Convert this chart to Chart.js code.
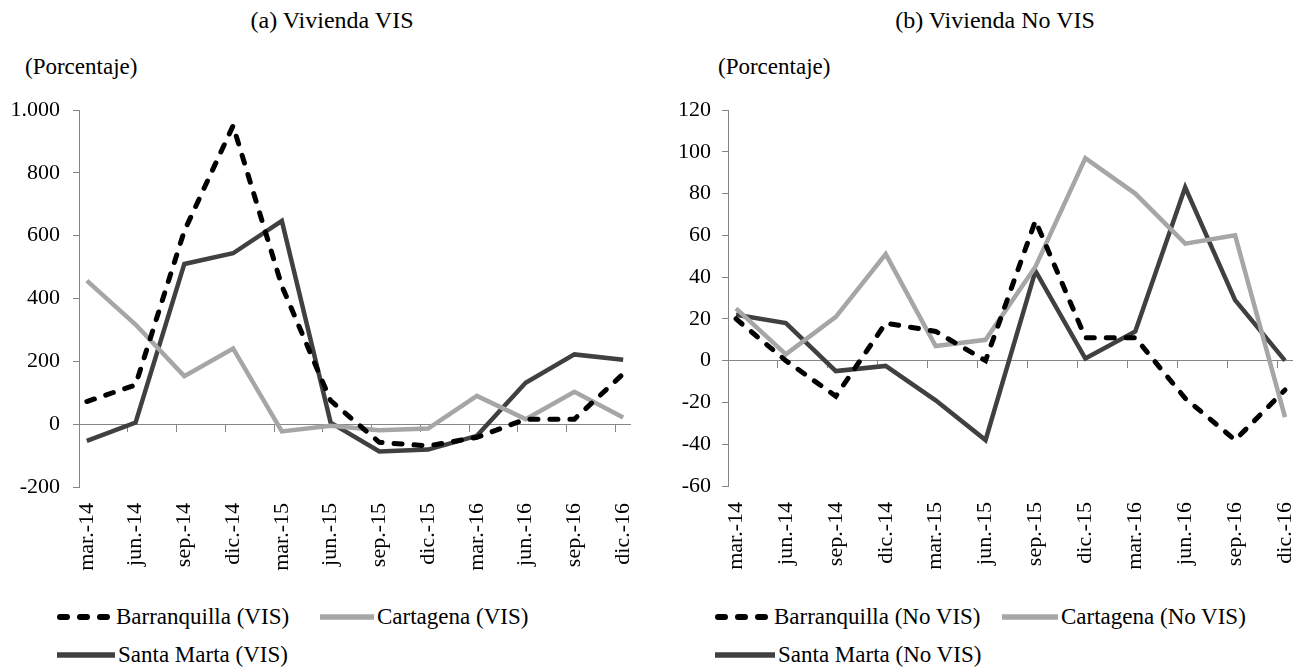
<!DOCTYPE html>
<html>
<head>
<meta charset="utf-8">
<script src="https://cdn.jsdelivr.net/npm/chart.js@4.4.1/dist/chart.umd.min.js"></script>
<style>
  body { margin: 0; background: #fff; }
  #wrap { position: relative; width: 1305px; height: 671px; font-family: "Liberation Serif", "Times New Roman", serif; color: #000; }
  .title { position: absolute; top: 6px; font-size: 24px; line-height: 28px; white-space: nowrap; transform: translateX(-50%); }
  .unit { position: absolute; top: 54px; font-size: 23px; line-height: 26px; white-space: nowrap; }
  .box { position: absolute; top: 0; height: 600px; }
  .item { position: absolute; display: flex; align-items: center; font-size: 23px; line-height: 26px; white-space: nowrap; }
  .item svg { display: block; margin-right: 3px; }
</style>
</head>
<body>
<div id="wrap">
  <div class="title" style="left:332px">(a) Vivienda VIS</div>
  <div class="title" style="left:995px">(b) Vivienda No VIS</div>
  <div class="unit" style="left:25px">(Porcentaje)</div>
  <div class="unit" style="left:718px">(Porcentaje)</div>

  <div class="box" style="left:0;width:665px"><canvas id="chartVis"></canvas></div>
  <div class="box" style="left:665px;width:640px"><canvas id="chartNoVis"></canvas></div>

  <div id="legendVis"></div>
  <div id="legendNoVis"></div>
</div>

<script>
// --- data ---
const xLabels = ['mar.-14', 'jun.-14', 'sep.-14', 'dic.-14', 'mar.-15', 'jun.-15',
                 'sep.-15', 'dic.-15', 'mar.-16', 'jun.-16', 'sep.-16', 'dic.-16'];

const barranquillaVis = [72, 125, 615, 950, 440, 75, -58, -69, -42, 16, 16, 160];
const cartagenaVis    = [457, 317, 153, 241, -23, -5, -19, -14, 90, 16, 103, 21];
const santaMartaVis   = [-53, 5, 510, 544, 647, 5, -87, -81, -37, 132, 222, 205];

const barranquillaNoVis = [20, 0, -17, 18, 14, 0, 67, 11, 11, -18, -38, -14];
const cartagenaNoVis    = [25, 3, 21, 51, 7, 10, 45, 97, 80, 56, 60, -27];
const santaMartaNoVis   = [22, 18, -5, -2.5, -19, -38, 43, 1, 14, 83, 29, 0];

const yTicksVis   = [-200, 0, 200, 400, 600, 800, 1000];
const yTicksNoVis = [-60, -40, -20, 0, 20, 40, 60, 80, 100, 120];

const seriesNamesVis   = ['Barranquilla (VIS)', 'Cartagena (VIS)', 'Santa Marta (VIS)'];
const seriesNamesNoVis = ['Barranquilla (No VIS)', 'Cartagena (No VIS)', 'Santa Marta (No VIS)'];

// --- styles ---
const FONT = { family: '"Liberation Serif", "Times New Roman", serif', size: 22 };
const AXIS_GREY = '#868686';
const STYLES = [
    { color: '#000000', width: 5, dash: [8, 12] },
    { color: '#a6a6a6', width: 4.5, dash: [] },
    { color: '#404040', width: 4.5, dash: [] }
];
const X_MIN = -0.16, X_MAX = 11.14;

function fmt(v) {
    return String(v).replace(/\B(?=(\d{3})+(?!\d))/g, '.');
}

function makeChart(id, seriesList, names, yTicks, geom) {
    const ctx = document.getElementById(id);
    const datasets = seriesList.map((vals, i) => ({
        label: names[i],
        data: vals.map((v, k) => ({ x: k, y: v })),
        borderColor: STYLES[i].color,
        borderWidth: STYLES[i].width,
        borderDash: STYLES[i].dash,
        borderCapStyle: STYLES[i].dash.length ? 'round' : 'butt',
        borderJoinStyle: 'miter',
        pointRadius: 0,
        tension: 0,
        fill: false
    }));
    // dashed series on top like the original
    datasets[0].order = -1;

    return new Chart(ctx, {
        type: 'line',
        data: { datasets },
        options: {
            responsive: true,
            maintainAspectRatio: false,
            animation: false,
            layout: { padding: { top: geom.top, right: geom.right, left: 0, bottom: 0 } },
            plugins: { legend: { display: false }, tooltip: { enabled: false } },
            scales: {
                x: {
                    type: 'linear',
                    position: 'bottom',
                    min: X_MIN,
                    max: X_MAX,
                    grid: { display: false, drawTicks: false },
                    border: { display: false },
                    afterBuildTicks: s => { s.ticks = xLabels.map((_, i) => ({ value: i })); },
                    afterFit: s => {
                        s.height = geom.bottomH;
                        // rotated labels must not squeeze the plot sideways
                        s.paddingLeft = 0;
                        s.paddingRight = 0;
                    },
                    ticks: {
                        autoSkip: false,
                        minRotation: 90,
                        maxRotation: 90,
                        padding: 16,
                        color: '#000',
                        font: FONT,
                        callback: (v, i) => xLabels[i]
                    }
                },
                // axis line at y = 0 with the small tick marks
                x2: {
                    type: 'linear',
                    position: { y: 0 },
                    min: X_MIN,
                    max: X_MAX,
                    grid: { drawOnChartArea: false, drawTicks: true, tickLength: 7, color: AXIS_GREY, lineWidth: 1 },
                    border: { display: true, color: AXIS_GREY, width: 1 },
                    afterBuildTicks: s => { s.ticks = xLabels.map((_, i) => ({ value: i + X_MIN })); },
                    afterFit: s => { s.paddingLeft = 0; s.paddingRight = 0; },
                    ticks: { display: false, autoSkip: false }
                },
                y: {
                    min: yTicks[0],
                    max: yTicks[yTicks.length - 1],
                    afterBuildTicks: s => { s.ticks = yTicks.map(v => ({ value: v })); },
                    afterFit: s => { s.width = geom.left; },
                    grid: { drawOnChartArea: false, drawTicks: true, tickLength: 6, color: AXIS_GREY },
                    border: { display: true, color: AXIS_GREY, width: 1 },
                    ticks: { padding: geom.tickPad, color: '#000', font: FONT, callback: v => fmt(v) }
                }
            }
        }
    });
}

function makeLegend(id, names, pos) {
    const el = document.getElementById(id);
    el.innerHTML = names.map((n, i) => {
        const st = STYLES[i];
        const p = pos[i];
        const line = st.dash.length
            ? `<svg width="${p.w}" height="8"><line x1="3" y1="4" x2="${p.w}" y2="4" stroke="${st.color}" stroke-width="6" stroke-linecap="round" stroke-dasharray="7 13"/></svg>`
            : `<svg width="${p.w}" height="8"><line x1="0" y1="4" x2="${p.w}" y2="4" stroke="${st.color}" stroke-width="5.5"/></svg>`;
        return `<div class="item" style="left:${p.x}px;top:${p.y - 13}px">${line}<span>${n}</span></div>`;
    }).join('');
}

makeChart('chartVis', [barranquillaVis, cartagenaVis, santaMartaVis], seriesNamesVis, yTicksVis,
    { top: 110, right: 35, left: 79, bottomH: 113, tickPad: 13 });
makeChart('chartNoVis', [barranquillaNoVis, cartagenaNoVis, santaMartaNoVis], seriesNamesNoVis, yTicksNoVis,
    { top: 110, right: 13, left: 63, bottomH: 114, tickPad: 11 });

makeLegend('legendVis', seriesNamesVis, [
    { x: 57, y: 617, w: 56 }, { x: 320, y: 617, w: 54 }, { x: 57, y: 655, w: 58 }
]);
makeLegend('legendNoVis', seriesNamesNoVis, [
    { x: 715, y: 617, w: 56 }, { x: 1002, y: 617, w: 56 }, { x: 715, y: 655, w: 60 }
]);
</script>
</body>
</html>
